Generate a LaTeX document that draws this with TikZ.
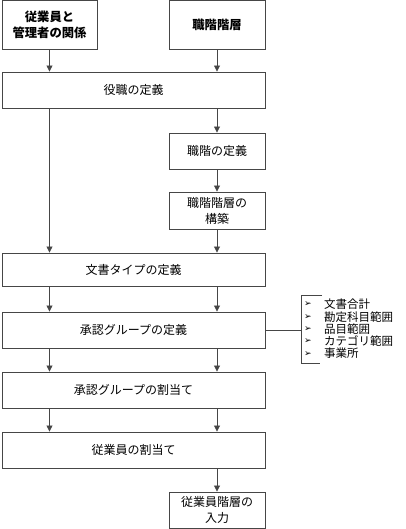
\documentclass[tikz,border=0pt]{standalone}
\usepackage{fontspec}
\setmainfont{Noto Sans CJK JP}
\newfontfamily\symfont{DejaVu Sans}
\usetikzlibrary{arrows.meta,calc}
\definecolor{linegray}{RGB}{70,70,70}
\tikzset{
  box/.style={draw=linegray, line width=0.9pt, fill=white, inner sep=1pt, align=center,
    font=\fontsize{12}{16}\selectfont},
  topbox/.style={box, font=\fontsize{12.3}{16}\selectfont\bfseries},
  flow/.style={draw=linegray, line width=0.8pt, -{Triangle[length=6pt,width=6pt]}},
  plain/.style={draw=linegray, line width=0.8pt},
  listitem/.style={anchor=west, inner sep=0pt, font=\fontsize{11.5}{12}\selectfont},
  bulletmark/.style={inner sep=0pt, font=\symfont\fontsize{9}{9}\selectfont},
}
\begin{document}
\begin{tikzpicture}[x=1pt,y=-1pt]
\useasboundingbox (0,0) rectangle (406,529);
% boxes (center, width, height)
\node[topbox, minimum width=95pt, minimum height=49pt] (rel) at (49.5,24.5) {従業員と\\管理者の関係};
\node[topbox, minimum width=96pt, minimum height=49pt] (hier) at (217,24.5) {職階階層};
\node[box, minimum width=263pt, minimum height=36pt] (yaku) at (133.5,90) {役職の定義};
\node[box, minimum width=96pt, minimum height=36pt] (shokukai) at (217,151) {職階の定義};
\node[box, minimum width=96pt, minimum height=37pt] (kouchiku) at (217,210.5) {職階階層の\\構築};
\node[box, minimum width=263pt, minimum height=33pt] (bunsho) at (133.5,269.5) {文書タイプの定義};
\node[box, minimum width=263pt, minimum height=36pt] (shounin) at (133.5,330) {承認グループの定義};
\node[box, minimum width=263pt, minimum height=36pt] (wariate) at (133.5,390) {承認グループの割当て};
\node[box, minimum width=263pt, minimum height=36pt] (juugyouin) at (133.5,450) {従業員の割当て};
\node[box, minimum width=96pt, minimum height=36pt] (nyuryoku) at (217,510) {従業員階層の\\入力};
% connectors
\draw[flow] (rel.south) -- (rel.south |- yaku.north);
\draw[flow] (hier.south) -- (hier.south |- yaku.north);
\draw[flow] (rel.south |- yaku.south) -- (rel.south |- bunsho.north);
\draw[flow] (shokukai.north |- yaku.south) -- (shokukai.north);
\draw[flow] (shokukai.south) -- (kouchiku.north);
\draw[flow] (kouchiku.south) -- (kouchiku.south |- bunsho.north);
\draw[flow] (rel.south |- bunsho.south) -- (rel.south |- shounin.north);
\draw[flow] (hier.south |- bunsho.south) -- (hier.south |- shounin.north);
\draw[flow] (rel.south |- shounin.south) -- (rel.south |- wariate.north);
\draw[flow] (hier.south |- shounin.south) -- (hier.south |- wariate.north);
\draw[flow] (rel.south |- wariate.south) -- (rel.south |- juugyouin.north);
\draw[flow] (hier.south |- wariate.south) -- (hier.south |- juugyouin.north);
\draw[flow] (nyuryoku.north |- juugyouin.south) -- (nyuryoku.north);
% bracket list
\coordinate (br) at (301,330);
\draw[plain] (shounin.east) -- (br);
\draw[plain] (322,295) -- (301,295) -- (301,363) -- (320,363);
\foreach \y/\t [count=\i] in {304.5/文書合計, 316.8/勘定科目範囲, 329/品目範囲, 341.3/カテゴリ範囲, 353.6/事業所}{
  \node[bulletmark] (m\i) at (308,\y) {➢};
  \node[listitem] (t\i) at (324,\y) {\t};
}
\end{tikzpicture}
\end{document}
